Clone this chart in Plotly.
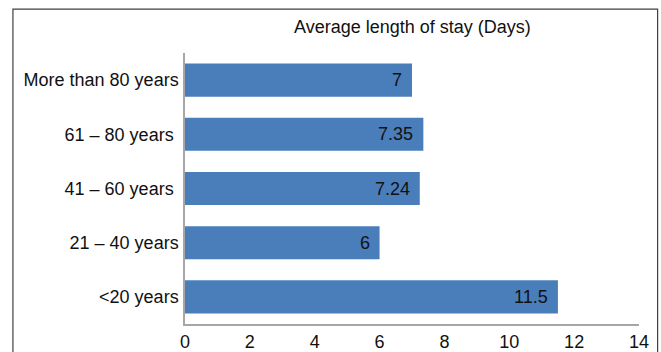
import plotly.graph_objects as go

# Age groups, listed top to bottom
age_groups = [
    "More than 80 years",
    "61 \u2013 80 years\u00a0",
    "41 \u2013 60 years\u00a0",
    "21 \u2013 40 years",
    "<20 years",
]
avg_stay_days = [7, 7.35, 7.24, 6, 11.5]
value_labels = ["7", "7.35", "7.24", "6", "11.5"]
x_ticks = [0, 2, 4, 6, 8, 10, 12, 14]

FONT = "Liberation Sans, Arial, sans-serif"
FONT_SIZE = 18
BAR_COLOR = "#4a7ebb"
AXIS_COLOR = "#a6a6a6"
TEXT_COLOR = "#111111"

fig = go.Figure(
    go.Bar(
        x=avg_stay_days,
        y=age_groups,
        orientation="h",
        marker=dict(color=BAR_COLOR, line=dict(width=0)),
        width=0.61,
        hoverinfo="x+y",
    )
)

# Value labels just inside the end of each bar
for cat, val, lab in zip(age_groups, avg_stay_days, value_labels):
    fig.add_annotation(
        x=val, y=cat, text=lab, showarrow=False,
        xanchor="right", yanchor="middle", xshift=-8,
        font=dict(family=FONT, size=FONT_SIZE, color=TEXT_COLOR),
    )

# Chart title over the plot area
fig.add_annotation(
    x=0.5, y=1.096, xref="paper", yref="paper",
    text="Average length of stay (Days)", showarrow=False,
    xanchor="center", yanchor="middle",
    font=dict(family=FONT, size=FONT_SIZE, color=TEXT_COLOR),
)

# Frame around the whole chart
fig.add_shape(
    type="rect", xref="paper", yref="paper",
    x0=-0.379, x1=1.041, y0=-0.2, y1=1.162,
    line=dict(color="#404040", width=1.2), fillcolor="rgba(0,0,0,0)",
    layer="below",
)

fig.update_layout(
    width=661, height=352,
    margin=dict(l=185, r=22, t=53, b=28, pad=0),
    paper_bgcolor="white", plot_bgcolor="white",
    showlegend=False,
    font=dict(family=FONT, size=FONT_SIZE, color=TEXT_COLOR),
    xaxis=dict(
        range=[0, 14], tickvals=x_ticks, ticktext=[str(t) for t in x_ticks],
        automargin=False,
        showgrid=False, zeroline=False,
        showline=True, linecolor=AXIS_COLOR, linewidth=1.5,
        ticks="outside", ticklen=1, tickcolor="rgba(0,0,0,0)",
        tickfont=dict(family=FONT, size=FONT_SIZE, color=TEXT_COLOR),
    ),
    yaxis=dict(
        autorange="reversed", automargin=False,
        showgrid=False, zeroline=False,
        showline=True, linecolor=AXIS_COLOR, linewidth=1.5,
        ticks="outside", ticklen=1, tickcolor="rgba(0,0,0,0)",
        tickfont=dict(family=FONT, size=FONT_SIZE, color=TEXT_COLOR),
    ),
)

fig.write_html("out.html")
